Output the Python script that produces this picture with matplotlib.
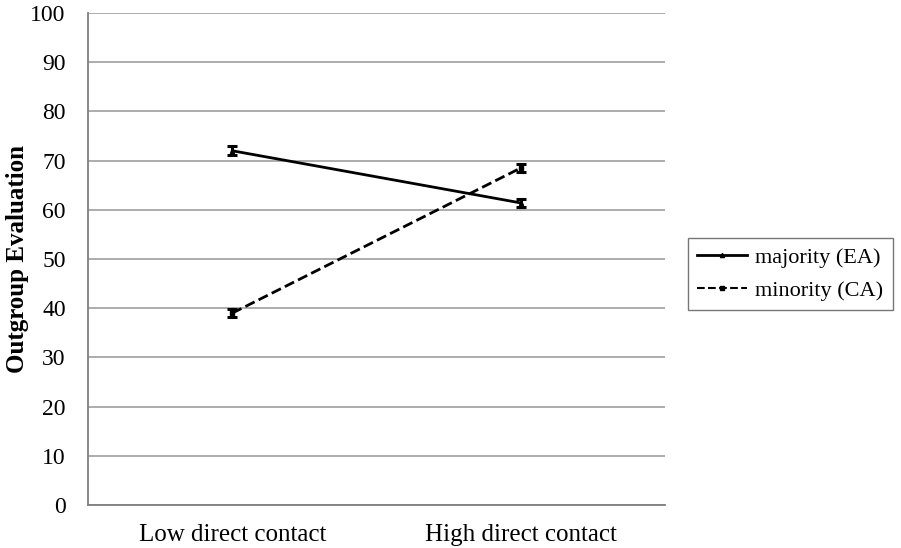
import matplotlib
matplotlib.use("Agg")
import matplotlib.pyplot as plt
from matplotlib.lines import Line2D

categories = ["Low direct contact", "High direct contact"]
majority = [72.0, 61.4]
majority_err = [0.9, 0.8]
minority = [39.0, 68.5]
minority_err = [0.8, 0.8]

plt.rcParams['font.family'] = ['Liberation Serif', 'DejaVu Serif']

fig = plt.figure(figsize=(9.01, 5.48), dpi=100)
ax = fig.add_axes([88 / 901, 1 - 505 / 548, 577 / 901, 492 / 548])

x = range(len(categories))
ax.errorbar(x, majority, yerr=majority_err, color='black', lw=2, marker='^', ms=3,
            capsize=3.5, elinewidth=2.2, capthick=2.2, zorder=3)
ax.errorbar(x, minority, yerr=minority_err, color='black', lw=2, ls='--', marker='s', ms=3,
            capsize=3.5, elinewidth=2.2, capthick=2.2, zorder=3)

ax.set_xlim(-0.5, 1.5)
ax.set_ylim(0, 100)
ax.set_yticks(range(0, 101, 10))
ax.set_xticks(list(x))
ax.set_xticklabels(categories)
ax.yaxis.grid(True, color='#a6a6a6', lw=1.3)
ax.set_axisbelow(True)
for side in ['left', 'bottom']:
    ax.spines[side].set_color('#7f7f7f')
    ax.spines[side].set_linewidth(1.3)
for side in ['top', 'right']:
    ax.spines[side].set_visible(False)
ax.tick_params(axis='both', length=0)
ax.tick_params(axis='y', pad=16, labelsize=17)
ax.tick_params(axis='x', pad=14, labelsize=18)
ax.set_ylabel('Outgroup Evaluation', fontsize=18, fontweight='bold')
ax.yaxis.set_label_coords(-59 / 577, 0.5)

# legend without the error bars
handles = [
    Line2D([], [], color='black', lw=2, marker='^', ms=3),
    Line2D([], [], color='black', lw=1.5, ls='--', marker='s', ms=3),
]
labels = ['majority (EA)', 'minority (CA)']
leg = fig.legend(handles, labels, loc='center left', bbox_to_anchor=(688 / 901, 1 - 274 / 548),
                 fontsize=16, frameon=True, fancybox=False, edgecolor='#555555',
                 handlelength=2.25, handletextpad=0.35, borderpad=0.42, labelspacing=0.58,
                 borderaxespad=0)
leg.get_frame().set_linewidth(1.0)

fig.savefig('out.png', dpi=100)
